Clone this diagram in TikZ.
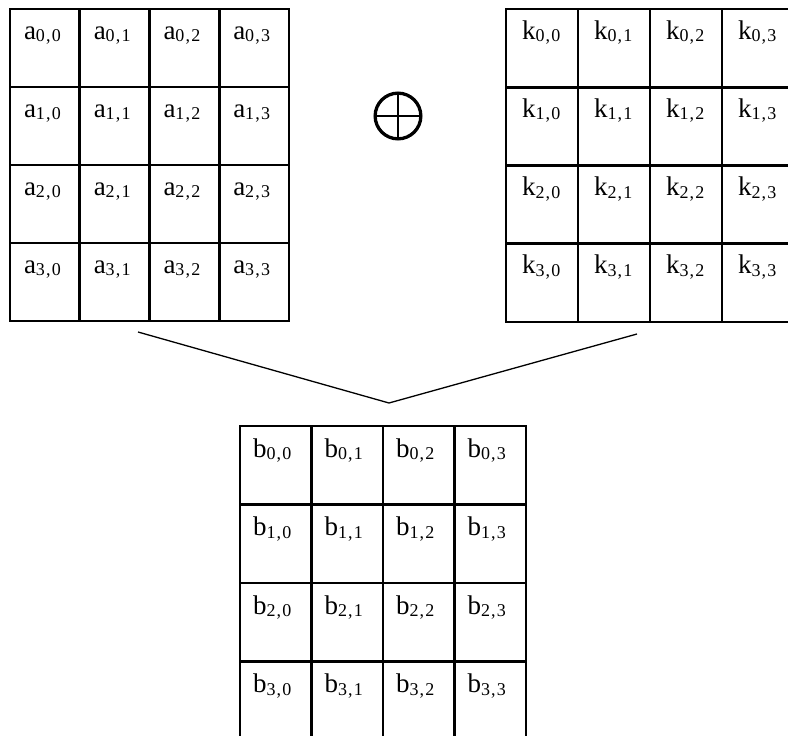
\documentclass[tikz,border=0pt]{standalone}
\usepackage{fontspec}
\setmainfont{Liberation Serif}
\usetikzlibrary{calc}
\newcommand{\cellsub}[3]{{\fontsize{27}{27}\selectfont #1}\raisebox{-2.5pt}{\fontsize{18}{18}\selectfont #2\kern1.2pt,\kern1.2pt#3}}
\tikzset{
  cellbox/.style={draw, line width=2.8pt, inner sep=0pt, outer sep=0pt},
  lbl/.style={inner sep=0pt, outer sep=0pt, anchor=base west},
  link/.style={line width=1.3pt},
}
\begin{document}
\begin{tikzpicture}[x=1pt,y=1pt]
\useasboundingbox (0,0) rectangle (788,-736);
\clip (0,0) rectangle (788,-736);
% grid A
\foreach \r in {0,...,3}{
  \foreach \c in {0,...,3}{
    \node[cellbox, minimum width=69.75pt, minimum height=78pt, anchor=north west] (a\r\c) at ({10+\c*69.75},{-9-\r*78}) {};
    \node[lbl] (ta\r\c) at ($(a\r\c.north west)+(14,-30)$) {\cellsub{a}{\r}{\c}};
  }
}
% grid K
\foreach \r in {0,...,3}{
  \foreach \c in {0,...,3}{
    \node[cellbox, minimum width=72pt, minimum height=78.25pt, anchor=north west] (k\r\c) at ({506+\c*72},{-9-\r*78.25}) {};
    \node[lbl] (tk\r\c) at ($(k\r\c.north west)+(16,-30)$) {\cellsub{k}{\r}{\c}};
  }
}
% grid B
\foreach \r in {0,...,3}{
  \foreach \c in {0,...,3}{
    \node[cellbox, minimum width=71.5pt, minimum height=78.5pt, anchor=north west] (b\r\c) at ({240+\c*71.5},{-426-\r*78.5}) {};
    \node[lbl] (tb\r\c) at ($(b\r\c.north west)+(13,-31)$) {\cellsub{b}{\r}{\c}};
  }
}
% XOR symbol
\node[circle, draw, line width=3.3pt, minimum size=45.7pt, inner sep=0pt, outer sep=0pt] (xor) at (398,-116) {};
\draw[line width=2.7pt] (xor.north) -- (xor.south);
\draw[line width=2.7pt] (xor.west) -- (xor.east);
% connectors
\coordinate (lstart) at (138,-332);
\coordinate (apex) at (389,-403);
\coordinate (rend) at (637,-334);
\draw[link] (lstart) -- (apex) -- (rend);
\end{tikzpicture}
\end{document}
